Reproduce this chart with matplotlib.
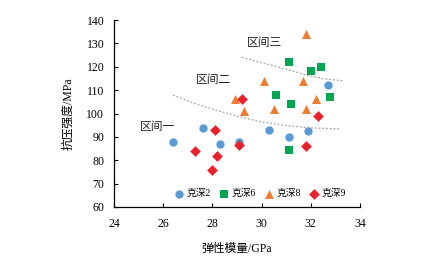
import matplotlib
matplotlib.use("Agg")
import matplotlib.pyplot as plt

plt.rcParams['font.family'] = ['Liberation Serif', 'Noto Sans CJK SC']

# data
k2_x = [26.4, 27.6, 28.3, 29.1, 30.3, 31.1, 31.9, 32.7]
k2_y = [88, 94, 87, 88, 93, 90, 92.5, 112]
k6_x = [31.1, 32.0, 32.4, 30.6, 31.2, 32.8, 31.1]
k6_y = [122, 118, 120, 108, 104, 107, 84.5]
k8_x = [31.8, 30.1, 31.7, 28.9, 29.3, 30.5, 31.8, 32.2]
k8_y = [134, 114, 114, 106, 101, 102, 102, 106]
k9_x = [29.2, 32.3, 28.1, 27.3, 28.2, 28.0, 29.1, 31.8]
k9_y = [106, 99, 93, 84, 82, 76, 86.5, 86]

curve1_x = [26.4, 27.2, 27.9, 28.9, 29.9, 31.0, 32.1, 33.2]
curve1_y = [107.9, 104.6, 102.2, 99.2, 96.6, 94.8, 93.8, 93.4]
curve2_x = [29.2, 29.9, 30.5, 31.2, 31.8, 32.5, 33.3]
curve2_y = [124.0, 122.0, 120.4, 118.4, 116.5, 114.9, 114.0]

series_names = ['克深2', '克深6', '克深8', '克深9']
zone_labels = ['区间一', '区间二', '区间三']
zone_x = [25.75, 28.05, 30.1]
zone_y = [94.2, 114.3, 130.2]

fig = plt.figure(figsize=(4.21, 2.57), dpi=100)
ax = fig.add_axes([0.2708, 0.1946, 0.855 - 0.2708, 0.922 - 0.1946])

ax.plot(curve1_x, curve1_y, linestyle=(0, (1.5, 1.5)), color='#a6a6a6', lw=0.9, zorder=1)
ax.plot(curve2_x, curve2_y, linestyle=(0, (1.5, 1.5)), color='#a6a6a6', lw=0.9, zorder=1)

ax.scatter(k2_x, k2_y, marker='o', s=36, color='#5B9BD5', label=series_names[0], zorder=3, linewidths=0)
ax.scatter(k6_x, k6_y, marker='s', s=36, color='#00A651', label=series_names[1], zorder=3, linewidths=0)
ax.scatter(k8_x, k8_y, marker='^', s=42, color='#ED7D31', label=series_names[2], zorder=3, linewidths=0)
ax.scatter(k9_x, k9_y, marker='D', s=30, color='#E8212B', label=series_names[3], zorder=3, linewidths=0)

for t, x, y in zip(zone_labels, zone_x, zone_y):
    ax.text(x, y, t, fontsize=8.5, ha='center', va='center', color='#222222')

ax.set_xlim(24, 34)
ax.set_ylim(60, 140)
ax.set_xticks([24, 26, 28, 30, 32, 34])
ax.set_yticks(range(60, 141, 10))
ax.tick_params(direction='in', length=3, width=0.8, labelsize=8.5)
ax.tick_params(axis='x', pad=8)
ax.tick_params(axis='y', pad=7)
for s in ['top', 'right']:
    ax.spines[s].set_visible(False)
for s in ['left', 'bottom']:
    ax.spines[s].set_linewidth(0.9)

ax.set_xlabel('弹性模量/GPa', fontsize=8.5, labelpad=9)
ax.set_ylabel('抗压强度/MPa', fontsize=8.5, labelpad=9)

ax.legend(loc='lower center', bbox_to_anchor=(0.594, 0.0), ncol=4, frameon=False,
          fontsize=7, handlelength=1.0, handletextpad=0.3, columnspacing=0.85,
          markerscale=1.0, borderaxespad=0.5)

fig.savefig('out.png', dpi=100)
